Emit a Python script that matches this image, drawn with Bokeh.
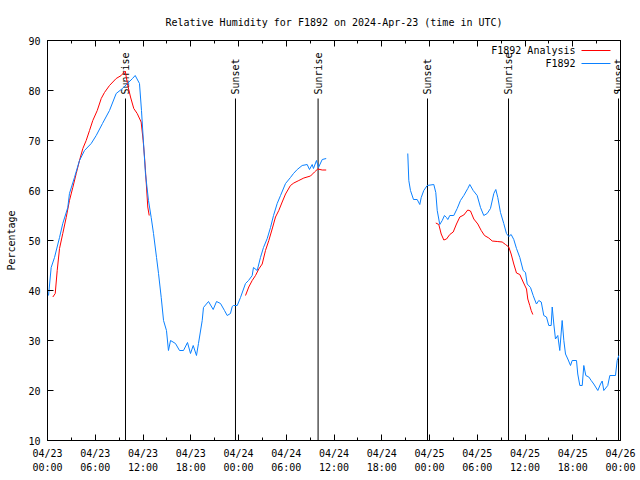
import math
from bokeh.plotting import figure
from bokeh.models import Range1d, FixedTicker, LinearAxis
from bokeh.embed import file_html
from bokeh.resources import INLINE
from bokeh.core.properties import value

# hours since 2024-04-23 00:00 UTC
obs_hours_a = [0.13, 0.46, 0.88, 1.51, 1.92, 2.55, 2.76, 3.39, 4.02, 4.65, 5.49, 6.12, 6.91, 7.79,
               8.63, 9.42, 10.05, 10.68, 11.02, 11.56, 11.81, 12.06, 12.31, 12.69, 13.03, 13.32,
               13.70, 13.95, 14.29, 14.58, 14.95, 15.20, 15.46, 16.08, 16.59, 17.09, 17.59, 17.97,
               18.31, 18.72, 18.97, 19.44, 19.60, 20.23, 20.82, 21.24, 21.74, 22.24, 22.58, 22.99,
               23.21, 23.37, 23.84, 24.25, 24.88, 25.26, 25.72, 25.88, 26.35, 26.76, 27.14, 27.61,
               28.02, 28.40, 28.86, 29.28, 29.91, 30.53, 30.91, 31.38, 32.00, 32.63, 32.92, 33.26,
               33.42, 33.80, 34.05, 34.52, 35.02]
obs_rh_a = [39, 44.6, 46.6, 50.6, 53.4, 56.6, 59.4, 62.6, 66, 68, 69.4, 71, 73.4, 76,
            79.4, 80.4, 81.4, 82.4, 83, 81.4, 76, 69.6, 63.4, 58, 54.6, 51.4,
            46.6, 43.4, 38.6, 34, 32, 28, 30, 29.4, 28, 28, 29.6, 27.4,
            29, 27, 29.4, 34, 36.6, 37.8, 36.2, 37.8, 37.4, 36, 35, 35.4,
            36.8, 37, 37, 38.6, 41.4, 42, 43, 44.6, 44, 46.6, 48.6, 50.4,
            52.6, 55, 57.4, 59, 61.4, 62.6, 63.4, 64.2, 65, 65.2, 64.2, 65.2,
            64.4, 66, 64.6, 66.2, 66.4]

obs_hours_b = [45.27, 45.40, 45.61, 45.99, 46.45, 46.78, 46.96, 47.28, 47.71, 48.54, 48.79, 48.97,
               49.29, 49.60, 49.88, 50.13, 50.30, 50.55, 51.05, 51.48, 51.89, 52.31, 52.81, 53.06,
               53.49, 53.99, 54.41, 54.82, 55.25, 55.66, 56.08, 56.33, 56.58, 56.92, 57.33, 57.67,
               57.96, 58.26, 58.59, 58.93, 59.35, 59.77, 60.06, 60.28, 60.69, 61.03, 61.19, 61.44,
               61.73, 62.04, 62.36, 62.70, 62.99, 63.29, 63.42, 63.62, 63.83, 64.12, 64.37, 64.67,
               64.88, 65.09, 65.38, 65.72, 65.93, 66.47, 66.63, 66.89, 67.19, 67.39, 67.64, 68.02,
               68.32, 68.64, 69.15, 69.49, 69.70, 69.90, 70.40, 70.66, 71.37, 71.58, 71.79]
obs_rh_b = [67.4, 62, 60, 58.2, 58.2, 57.2, 58.6, 60, 61, 61.2, 59.6, 56,
            53.2, 54, 55, 54.6, 54.2, 55, 55, 56.4, 58, 59, 60.4, 61.2,
            60, 59, 56.6, 55, 55.4, 56.4, 59.4, 60.2, 58.6, 55.6, 53.4, 51.4,
            50.8, 51.2, 50.2, 48.4, 46.6, 44, 43.6, 41.3, 40.6, 39, 38.3, 37.3,
            38, 37.7, 35, 34.7, 33, 33, 36.7, 33.3, 30.3, 31, 28, 34,
            30, 27.3, 26.3, 25, 26, 26, 23.3, 21, 21, 25, 23, 22.7,
            22, 21.3, 20, 21.3, 21.9, 20, 21, 23, 23, 26, 27]

an_hours_a = [0.67, 0.97, 1.22, 1.51, 1.92, 2.35, 2.76, 3.18, 3.61, 4.02, 4.44, 4.86, 5.28, 5.69,
              6.25, 6.75, 7.16, 7.79, 8.63, 9.26, 9.76, 10.09, 10.43, 10.84, 11.27, 11.77, 12.02,
              12.19, 12.31, 12.44, 12.60, 12.78]
an_rh_a = [38.7, 39.4, 44, 48.4, 51.4, 54.6, 58, 60.6, 63.4, 66, 68.4, 70, 72, 74,
           76, 78.4, 79.6, 81, 82.4, 83, 83.9, 81, 78.7, 76.4, 75.4, 73.7, 70,
           66.7, 64, 60.7, 56.7, 55]

an_hours_b = [24.88, 25.29, 25.72, 26.14, 26.55, 26.98, 27.39, 27.81, 28.23, 28.65, 29.06, 29.49,
              29.91, 30.53, 30.95, 31.58, 32.21, 33.05, 33.55, 33.96, 34.52, 35.02]
an_rh_b = [39, 40.7, 42, 43, 44.3, 45.3, 48, 50, 52.3, 54.7, 56, 57.7,
           59.3, 61, 61.5, 62, 62.5, 62.9, 63.7, 64.3, 64.1, 64.1]

an_hours_c = [48.79, 49.17, 49.47, 49.80, 50.14, 50.55, 50.98, 51.39, 51.81, 52.31, 52.81, 53.15,
              53.57, 54.07, 54.50, 54.91, 55.45, 55.88, 56.51, 57.13, 57.55, 57.96, 58.26, 58.59,
              58.93, 59.35, 59.77, 60.19, 60.35, 60.60, 60.78, 60.98]
an_rh_c = [53.5, 53.2, 51.3, 50.1, 50.3, 51.2, 51.7, 53.3, 54.7, 55.1, 56.1, 55.9,
           54.3, 53.3, 52, 51, 50.5, 49.9, 49.8, 49.7, 49.2, 48.7, 47.3, 45.3,
           43.5, 43.2, 41.7, 40.3, 38.3, 37, 36, 35.2]

event_hours = [9.80, 23.62, 34.0, 47.75, 57.93, 71.75]
event_names = ["Sunrise", "Sunset", "Sunrise", "Sunset", "Sunrise", "Sunset"]

tick_hours = [0, 6, 12, 18, 24, 30, 36, 42, 48, 54, 60, 66, 72]
tick_dates = ["04/23", "04/23", "04/23", "04/23", "04/24", "04/24", "04/24", "04/24",
              "04/25", "04/25", "04/25", "04/25", "04/26"]
tick_times = ["00:00", "06:00", "12:00", "18:00", "00:00", "06:00", "12:00", "18:00",
              "00:00", "06:00", "12:00", "18:00", "00:00"]
minor_hours = [3, 9, 15, 21, 27, 33, 39, 45, 51, 57, 63, 69]
y_ticks = [10, 20, 30, 40, 50, 60, 70, 80, 90]

series_names = ["F1892 Analysis", "F1892"]
RED = "#ff0000"
BLUE = "#0a80ff"
FONT = "DejaVu Sans Mono"
FS = "10px"

p = figure(frame_width=573, frame_height=400, output_backend="svg", toolbar_location=None,
           x_range=Range1d(0, 72), y_range=Range1d(10, 90),
           min_border_left=47, min_border_right=16, min_border_top=40, min_border_bottom=0)
p.title.text = "Relative Humidity for F1892 on 2024-Apr-23 (time in UTC)"
p.title.text_font = FONT
p.title.text_font_size = FS
p.title.text_font_style = "normal"
p.title.text_color = "black"
p.title.align = "center"
p.title.standoff = 25

p.grid.visible = False
p.outline_line_color = "black"
p.outline_line_width = 1
p.outline_line_alpha = 1

xt = FixedTicker(ticks=tick_hours, minor_ticks=minor_hours)
yt = FixedTicker(ticks=y_ticks, minor_ticks=[])
p.xaxis.ticker = xt
p.xaxis.major_label_overrides = {t: l for t, l in zip(tick_hours, tick_dates)}
p.yaxis.ticker = yt
p.yaxis.axis_label = "Percentage"

for ax in p.xaxis + p.yaxis:
    ax.major_tick_in = 6
    ax.major_tick_out = 0
    ax.minor_tick_in = 3
    ax.minor_tick_out = 0
    ax.axis_line_color = "black"
    ax.major_tick_line_color = "black"
    ax.minor_tick_line_color = "black"
    ax.major_label_text_font = FONT
    ax.major_label_text_font_size = FS
    ax.major_label_text_color = "black"
    ax.axis_label_text_font = FONT
    ax.axis_label_text_font_size = FS
    ax.axis_label_text_font_style = "normal"
    ax.axis_label_text_color = "black"
p.xaxis.major_label_standoff = 7
p.yaxis.major_label_standoff = 7
p.yaxis.axis_label_standoff = 8

# second row of x tick labels (times)
time_axis = LinearAxis(ticker=FixedTicker(ticks=tick_hours, minor_ticks=[]),
                       major_label_overrides={t: l for t, l in zip(tick_hours, tick_times)},
                       major_tick_in=0, major_tick_out=0, minor_tick_in=0, minor_tick_out=0,
                       axis_line_color=None, major_tick_line_color=None,
                       major_label_standoff=0, major_label_text_font=FONT,
                       major_label_text_font_size=FS, major_label_text_color="black")
p.add_layout(time_axis, "below")

# mirror ticks on top and right
top = LinearAxis(ticker=xt, major_tick_in=6, major_tick_out=0, minor_tick_in=3, minor_tick_out=0,
                 major_label_text_font_size="1px", major_label_text_color=None,
                 major_label_standoff=0, axis_line_color="black")
right = LinearAxis(ticker=yt, major_tick_in=6, major_tick_out=0, minor_tick_in=0, minor_tick_out=0,
                   major_label_text_font_size="1px", major_label_text_color=None,
                   major_label_standoff=0, axis_line_color="black")
p.add_layout(top, "above")
p.add_layout(right, "right")

# event lines
ev_top = [78.4] * len(event_hours)
p.segment(x0=event_hours, y0=[10] * len(event_hours), x1=event_hours, y1=ev_top,
          line_color="black", line_width=1)
p.text(x=event_hours, y=[79.2] * len(event_hours), text=event_names, angle=math.pi / 2,
       text_align="left", text_baseline="middle", text_font=value(FONT),
       text_font_size=FS, text_color="black")

nan = float("nan")
p.line(an_hours_a + [nan] + an_hours_b + [nan] + an_hours_c,
       an_rh_a + [nan] + an_rh_b + [nan] + an_rh_c, line_color=RED, line_width=1)
p.line(obs_hours_a + [nan] + obs_hours_b, obs_rh_a + [nan] + obs_rh_b,
       line_color=BLUE, line_width=1)

# legend (gnuplot style: text then line sample)
leg_y = [88.0, 85.4]
leg_x_text = 66.35
p.text(x=[leg_x_text] * 2, y=leg_y, text=series_names, text_align="right",
       text_baseline="middle", text_font=value(FONT), text_font_size=FS, text_color="black")
p.segment(x0=[67.1] * 2, y0=leg_y, x1=[70.74] * 2, y1=leg_y,
          line_color=[RED, BLUE], line_width=1)

open("out.html", "w").write(file_html(p, INLINE))
